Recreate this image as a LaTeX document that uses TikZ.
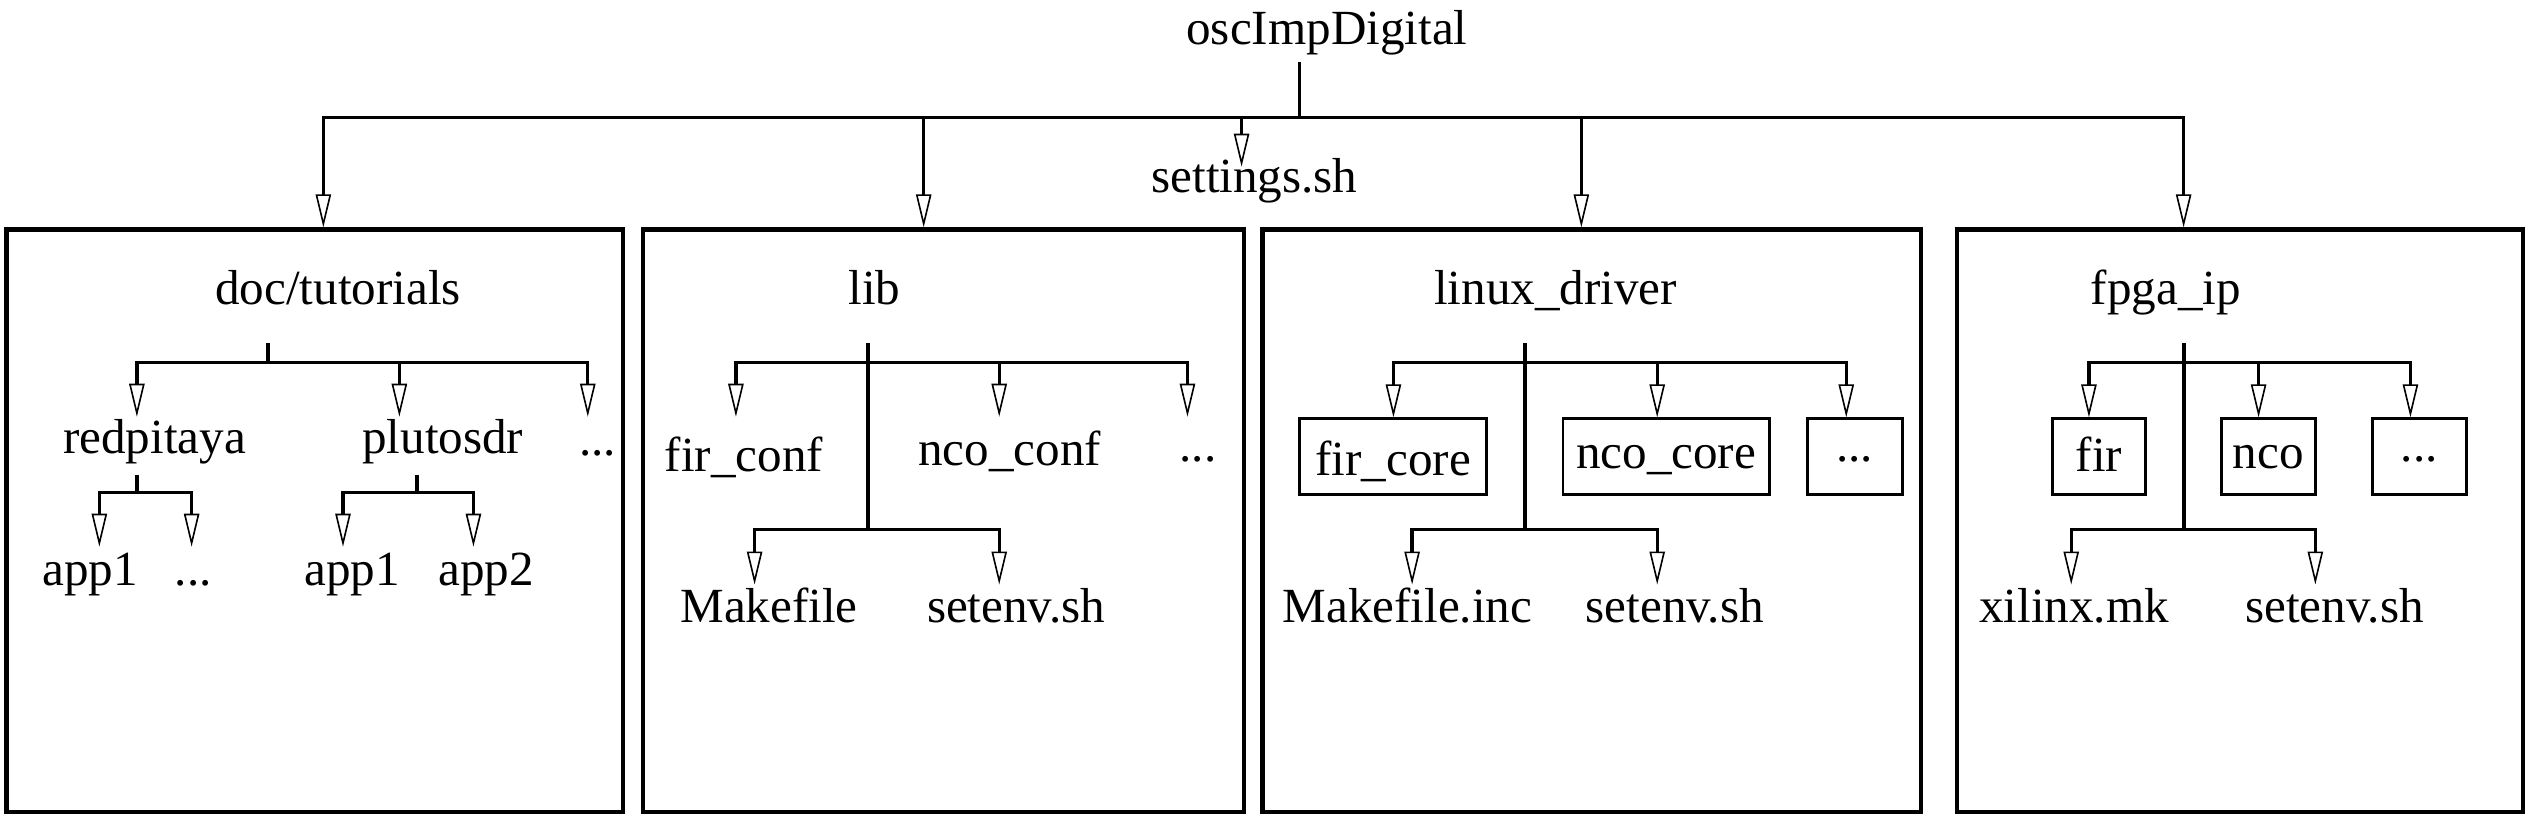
\documentclass[tikz,border=0pt]{standalone}
\usepackage{fontspec}
\setmainfont{Liberation Serif}
\usetikzlibrary{arrows.meta}
\tikzset{
  ln/.style={line width=2.1pt},
  arr/.style={ln, -{Triangle[open,length=20.5pt,width=9.5pt,line width=1pt]}},
  bigbox/.style={draw, line width=2.6pt, inner sep=0pt},
  smallbox/.style={draw, line width=1.8pt, inner sep=0pt, anchor=north, minimum height=47pt},
  lbl/.style={anchor=base, inner sep=0pt},
}
\begin{document}
\begin{tikzpicture}[x=1pt, y=-1pt, font=\fontsize{30.5}{36}\selectfont]
\useasboundingbox (0,0) rectangle (1568,507.35);

% ---------- root ----------
\node[lbl] (root) at (824,27.5) {oscImpDigital};
\coordinate (rj) at (807,72.9);
\coordinate (rtop) at (807,38.5);
\node[lbl] (settings) at (779,119.5) {settings.sh};
\coordinate (tset) at (771,103.5);

% ---------- big boxes ----------
\node[bigbox, minimum width=383pt, minimum height=361.5pt]  (docbox)   at (195.5,323.25) {};
\node[bigbox, minimum width=373pt, minimum height=361.5pt]  (libbox)   at (586,323.25) {};
\node[bigbox, minimum width=409pt, minimum height=361.5pt]  (linuxbox) at (988.5,323.25) {};
\node[bigbox, minimum width=351pt, minimum height=361.5pt]  (fpgabox)  at (1391,323.25) {};

\draw[ln] (rtop) -- (rj);
\draw[arr] (rj) -| ([xshift=5.3pt]docbox.north);
\draw[arr] (rj) -| ([xshift=-12.4pt]libbox.north);
\draw[arr] (rj) -| (tset);
\draw[arr] (rj) -| ([xshift=-6.5pt]linuxbox.north);
\draw[arr] (rj) -| ([xshift=-35pt]fpgabox.north);

% ---------- doc/tutorials ----------
\node[lbl] (doc) at (210,189) {doc/tutorials};
\coordinate (dtop) at (166.5,213);
\coordinate (dj) at (166.5,225);
\node[lbl] (redpitaya) at (96,281.5) {redpitaya};
\node[lbl] (plutosdr) at (275,281.5) {plutosdr};
\node[lbl] (ddots) at (371,283) {...};
\coordinate (tred) at (85,258.8);
\coordinate (tpluto) at (248,258.8);
\coordinate (tddots) at (365,258.8);
\draw[ln] (dtop) -- (dj);
\draw[arr] (dj) -| (tred);
\draw[arr] (dj) -| (tpluto);
\draw[arr] (dj) -| (tddots);

\coordinate (rptop) at (85,295);
\coordinate (rpj) at (85,306);
\node[lbl] (rapp1) at (56,363.3) {app1};
\node[lbl] (rdots) at (120,363.3) {...};
\coordinate (trapp1) at (61.7,339.5);
\coordinate (trdots) at (119,339.5);
\draw[ln] (rptop) -- (rpj);
\draw[arr] (rpj) -| (trapp1);
\draw[arr] (rpj) -| (trdots);

\coordinate (pstop) at (259,295);
\coordinate (psj) at (259,306);
\node[lbl] (papp1) at (218.7,363.3) {app1};
\node[lbl] (papp2) at (302,363.3) {app2};
\coordinate (tpapp1) at (213,339.5);
\coordinate (tpapp2) at (294,339.5);
\draw[ln] (pstop) -- (psj);
\draw[arr] (psj) -| (tpapp1);
\draw[arr] (psj) -| (tpapp2);

% ---------- lib ----------
\node[lbl] (lib) at (543,189) {lib};
\coordinate (ltop) at (539,213);
\coordinate (luj) at (539,225);
\coordinate (llj) at (539,329);
\node[lbl] (firconf) at (462,293) {fir\_conf};
\node[lbl] (ncoconf) at (627,288.8) {nco\_conf};
\node[lbl] (ldots) at (744,286.7) {...};
\node[lbl] (makefile) at (477.6,386.5) {Makefile};
\node[lbl] (lsetenv) at (631,386.5) {setenv.sh};
\coordinate (tfirconf) at (457,258.8);
\coordinate (tncoconf) at (620.5,258.8);
\coordinate (tldots) at (737.4,258.8);
\coordinate (tmakefile) at (468.6,363);
\coordinate (tlsetenv) at (620.5,363);
\draw[ln] (ltop) -- (llj);
\draw[arr] (luj) -| (tfirconf);
\draw[arr] (luj) -| (tncoconf);
\draw[arr] (luj) -| (tldots);
\draw[arr] (llj) -| (tmakefile);
\draw[arr] (llj) -| (tlsetenv);

% ---------- linux_driver ----------
\node[lbl] (linux) at (966,189) {linux\_driver};
\coordinate (xtop) at (947,213);
\coordinate (xuj) at (947,225);
\coordinate (xlj) at (947,329);
\node[smallbox, minimum width=116.5pt, text height=35pt, text depth=12pt] (fircore) at (865.1,259.2) {fir\_core};
\node[smallbox, minimum width=128pt, text height=30.6pt, text depth=16.4pt] (ncocore) at (1034.6,259.2) {nco\_core};
\node[smallbox, minimum width=59pt, text height=26.5pt, text depth=20.5pt] (xdots) at (1151.8,259.2) {...};
\node[lbl] (makeinc) at (874,386.5) {Makefile.inc};
\node[lbl] (xsetenv) at (1040,386.5) {setenv.sh};
\coordinate (tmakeinc) at (876.9,363);
\coordinate (txsetenv) at (1029.1,363);
\draw[ln] (xtop) -- (xlj);
\draw[arr] (xuj) -| ([xshift=0.2pt]fircore.north);
\draw[arr] (xuj) -| ([xshift=-5.5pt]ncocore.north);
\draw[arr] (xuj) -| ([xshift=-5.3pt]xdots.north);
\draw[arr] (xlj) -| (tmakeinc);
\draw[arr] (xlj) -| (txsetenv);

% ---------- fpga_ip ----------
\node[lbl] (fpga) at (1345,189) {fpga\_ip};
\coordinate (ftop) at (1356.2,213);
\coordinate (fuj) at (1356.2,225);
\coordinate (flj) at (1356.2,329);
\node[smallbox, minimum width=58pt, text height=32.7pt, text depth=14.3pt] (fir) at (1303.5,259.2) {fir};
\node[smallbox, minimum width=58.5pt, text height=30.6pt, text depth=16.4pt] (nco) at (1408.55,259.2) {nco};
\node[smallbox, minimum width=58.5pt, text height=26.5pt, text depth=20.5pt] (fdots) at (1502.35,259.2) {...};
\node[lbl] (xilinx) at (1288,386.5) {xilinx.mk};
\node[lbl] (fsetenv) at (1449.7,386.5) {setenv.sh};
\coordinate (txilinx) at (1286.2,363);
\coordinate (tfsetenv) at (1437.8,363);
\draw[ln] (ftop) -- (flj);
\draw[arr] (fuj) -| ([xshift=-6.3pt]fir.north);
\draw[arr] (fuj) -| ([xshift=-6pt]nco.north);
\draw[arr] (fuj) -| ([xshift=-5.5pt]fdots.north);
\draw[arr] (flj) -| (txilinx);
\draw[arr] (flj) -| (tfsetenv);
\end{tikzpicture}
\end{document}
